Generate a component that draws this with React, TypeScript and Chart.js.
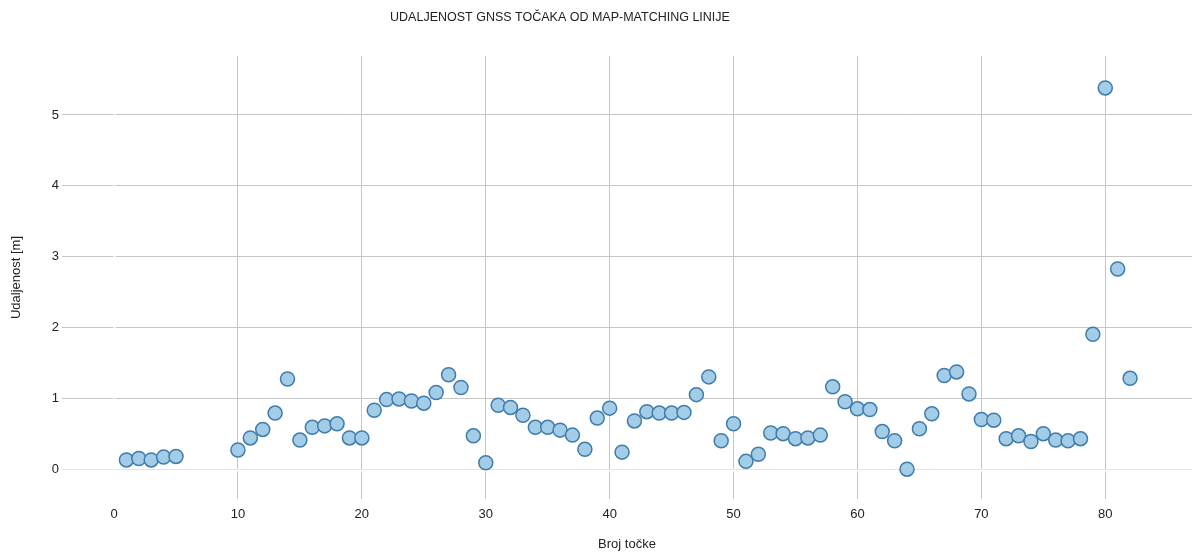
import { useEffect, useRef } from "react";
import { Chart, registerables } from "chart.js";

Chart.register(...registerables);

const chartTitle = "UDALJENOST GNSS TOČAKA OD MAP-MATCHING LINIJE";
const xAxisTitle = "Broj točke";
const yAxisTitle = "Udaljenost [m]";

const pointIds = [
  1, 2, 3, 4, 5,
  10, 11, 12, 13, 14, 15, 16, 17, 18, 19, 20,
  21, 22, 23, 24, 25, 26, 27, 28, 29, 30,
  31, 32, 33, 34, 35, 36, 37, 38, 39, 40,
  41, 42, 43, 44, 45, 46, 47, 48, 49, 50,
  51, 52, 53, 54, 55, 56, 57, 58, 59, 60,
  61, 62, 63, 64, 65, 66, 67, 68, 69, 70,
  71, 72, 73, 74, 75, 76, 77, 78, 79, 80,
  81, 82,
];

const distances = [
  0.14, 0.16, 0.14, 0.18, 0.19,
  0.28, 0.45, 0.57, 0.80, 1.28, 0.42, 0.60, 0.62, 0.65, 0.45, 0.45,
  0.84, 0.99, 1.00, 0.97, 0.94, 1.09, 1.34, 1.16, 0.48, 0.10,
  0.91, 0.88, 0.77, 0.60, 0.60, 0.56, 0.49, 0.29, 0.73, 0.87,
  0.25, 0.69, 0.82, 0.80, 0.80, 0.81, 1.06, 1.31, 0.41, 0.65,
  0.12, 0.22, 0.52, 0.51, 0.44, 0.45, 0.49, 1.17, 0.96, 0.86,
  0.85, 0.54, 0.41, 0.01, 0.58, 0.79, 1.33, 1.38, 1.07, 0.71,
  0.70, 0.44, 0.48, 0.40, 0.51, 0.42, 0.41, 0.44, 1.91, 5.38,
  2.83, 1.29,
];

const xTickValues = [0, 10, 20, 30, 40, 50, 60, 70, 80];
const yTickValues = [0, 1, 2, 3, 4, 5];

const FONT = "'Liberation Sans', Arial, sans-serif";
const TEXT = "#222222";
const GRID = "#c6c6c6";

export default function App() {
  const canvasRef = useRef<HTMLCanvasElement | null>(null);

  useEffect(() => {
    const canvas = canvasRef.current;
    if (!canvas) return;

    const titlePlugin = {
      id: "customTitle",
      afterDraw(chart: any) {
        const ctx = chart.ctx;
        ctx.save();
        ctx.font = `12.5px ${FONT}`;
        ctx.fillStyle = TEXT;
        ctx.textAlign = "center";
        ctx.textBaseline = "middle";
        ctx.fillText(chartTitle, 560, 18);
        ctx.restore();
      },
    };

    const baselinePlugin = {
      id: "whiteBaselines",
      beforeDatasetsDraw(chart: any) {
        const { ctx, chartArea, scales } = chart;
        const x0 = Math.round(scales.x.getPixelForValue(0)) + 0.5;
        const y0 = Math.round(scales.y.getPixelForValue(0)) + 0.5;
        ctx.save();
        ctx.strokeStyle = "#ffffff";
        ctx.lineWidth = 2;
        ctx.beginPath();
        ctx.moveTo(x0, chartArea.top);
        ctx.lineTo(x0, chartArea.bottom);
        ctx.moveTo(chartArea.left, y0);
        ctx.lineTo(chartArea.right, y0);
        ctx.stroke();
        ctx.restore();
      },
    };

    const chart = new Chart(canvas, {
      type: "scatter",
      data: {
        datasets: [
          {
            label: yAxisTitle,
            data: pointIds.map((x, i) => ({ x, y: distances[i] })),
            backgroundColor: "#a3cde6",
            borderColor: "#3f7cad",
            borderWidth: 1.5,
            pointRadius: 7,
            pointHoverRadius: 7,
          },
        ],
      },
      options: {
        responsive: false,
        animation: false,
        layout: { autoPadding: false, padding: { top: 56, left: 0, right: 0, bottom: 0 } },
        plugins: {
          legend: { display: false },
          tooltip: { enabled: false },
          title: { display: false },
        },
        scales: {
          x: {
            type: "linear",
            min: -4.2,
            max: 87,
            afterBuildTicks: (s: any) => {
              s.ticks = xTickValues.map((v) => ({ value: v }));
            },
            afterFit: (s: any) => {
              s.height = 53;
            },
            grid: {
              color: GRID,
              lineWidth: 1,
              drawTicks: false,
            },
            border: { display: false },
            ticks: {
              color: TEXT,
              font: { family: FONT, size: 13 },
              padding: 8,
              maxRotation: 0,
            },
            title: {
              display: true,
              text: xAxisTitle,
              color: TEXT,
              font: { family: FONT, size: 13 },
              padding: { top: 4, bottom: 0 },
            },
          },
          y: {
            type: "linear",
            min: -0.41,
            max: 5.83,
            afterBuildTicks: (s: any) => {
              s.ticks = yTickValues.map((v) => ({ value: v }));
            },
            afterFit: (s: any) => {
              s.width = 62;
            },
            grid: {
              color: GRID,
              lineWidth: 1,
              drawTicks: false,
            },
            border: { display: false },
            ticks: {
              color: TEXT,
              font: { family: FONT, size: 13 },
              padding: 3,
            },
            title: {
              display: true,
              text: yAxisTitle,
              color: TEXT,
              font: { family: FONT, size: 13 },
              padding: { top: 9, bottom: 0 },
            },
          },
        },
      },
      plugins: [baselinePlugin, titlePlugin],
    } as any);

    return () => chart.destroy();
  }, []);

  return (
    <div style={{ position: "absolute", left: 0, top: 0, width: 1192, height: 552, background: "#ffffff" }}>
      <canvas ref={canvasRef} width={1192} height={552} style={{ display: "block" }} />
    </div>
  );
}
